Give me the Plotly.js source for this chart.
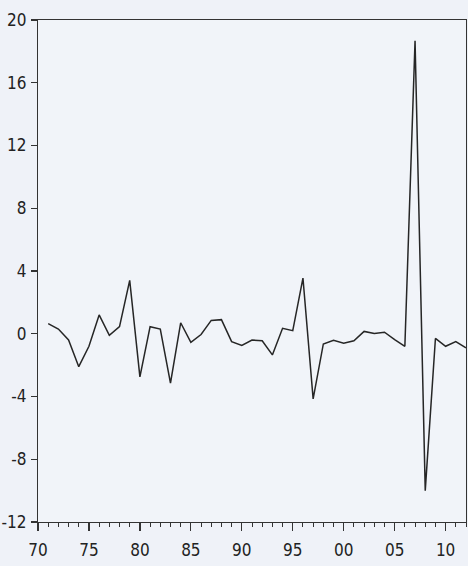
<!DOCTYPE html>
<html>
<head>
<meta charset="utf-8">
<script src="https://cdn.plot.ly/plotly-3.0.1.min.js"></script>
<style>
html,body{margin:0;padding:0;background:#eff2f8;}
#chart{width:468px;height:566px;}
</style>
</head>
<body>
<div id="chart"></div>
<script>
const years = [1971,1972,1973,1974,1975,1976,1977,1978,1979,1980,
  1981,1982,1983,1984,1985,1986,1987,1988,1989,1990,
  1991,1992,1993,1994,1995,1996,1997,1998,1999,2000,
  2001,2002,2003,2004,2005,2006,2007,2008,2009,2010,2011,2012];
const values = [0.64,0.3,-0.4,-2.1,-0.8,1.2,-0.1,0.45,3.4,-2.75,
  0.45,0.3,-3.15,0.7,-0.55,-0.05,0.85,0.9,-0.5,-0.75,
  -0.4,-0.45,-1.35,0.35,0.2,3.55,-4.15,-0.65,-0.42,-0.6,
  -0.45,0.15,0.02,0.1,-0.37,-0.8,18.67,-10.0,-0.3,-0.8,-0.5,-0.9];
const xTickVals = [1970,1975,1980,1985,1990,1995,2000,2005,2010];
const xTickText = ['70','75','80','85','90','95','00','05','10'];
const yTickVals = [-12,-8,-4,0,4,8,12,16,20];
const yTickText = ['-12','-8','-4','0','4','8','12','16','20'];

const font = {family: '"Liberation Sans Narrow","DejaVu Sans Condensed","Liberation Sans",Arial,sans-serif', size: 17, color: '#222'};

Plotly.newPlot('chart', [{
  x: years, y: values, type: 'scatter', mode: 'lines',
  line: {color: '#262626', width: 1.5}, hoverinfo: 'skip'
}], {
  width: 468, height: 566,
  margin: {l: 38, r: 2, t: 20, b: 44},
  paper_bgcolor: '#eff2f8', plot_bgcolor: '#f1f4f9',
  showlegend: false,
  font: font,
  xaxis: {
    range: [1970, 2012], tickmode: 'array', tickvals: xTickVals, ticktext: xTickText,
    ticks: 'outside', ticklen: 8, tickwidth: 1.2, tickcolor: '#333',
    minor: {tickmode: 'linear', tick0: 1970, dtick: 1, ticks: 'outside', ticklen: 4, tickwidth: 1, tickcolor: '#333', showgrid: false},
    showline: true, linecolor: '#333', linewidth: 1.2, mirror: true,
    showgrid: false, zeroline: false, fixedrange: true, ticklabelstandoff: 4
  },
  yaxis: {
    range: [-12, 20], tickmode: 'array', tickvals: yTickVals, ticktext: yTickText,
    ticks: 'outside', ticklen: 6, tickwidth: 1.2, tickcolor: '#333',
    showline: true, linecolor: '#333', linewidth: 1.2, mirror: true,
    showgrid: false, zeroline: false, fixedrange: true, ticklabelstandoff: 1
  }
}, {staticPlot: true, displayModeBar: false});
</script>
</body>
</html>
